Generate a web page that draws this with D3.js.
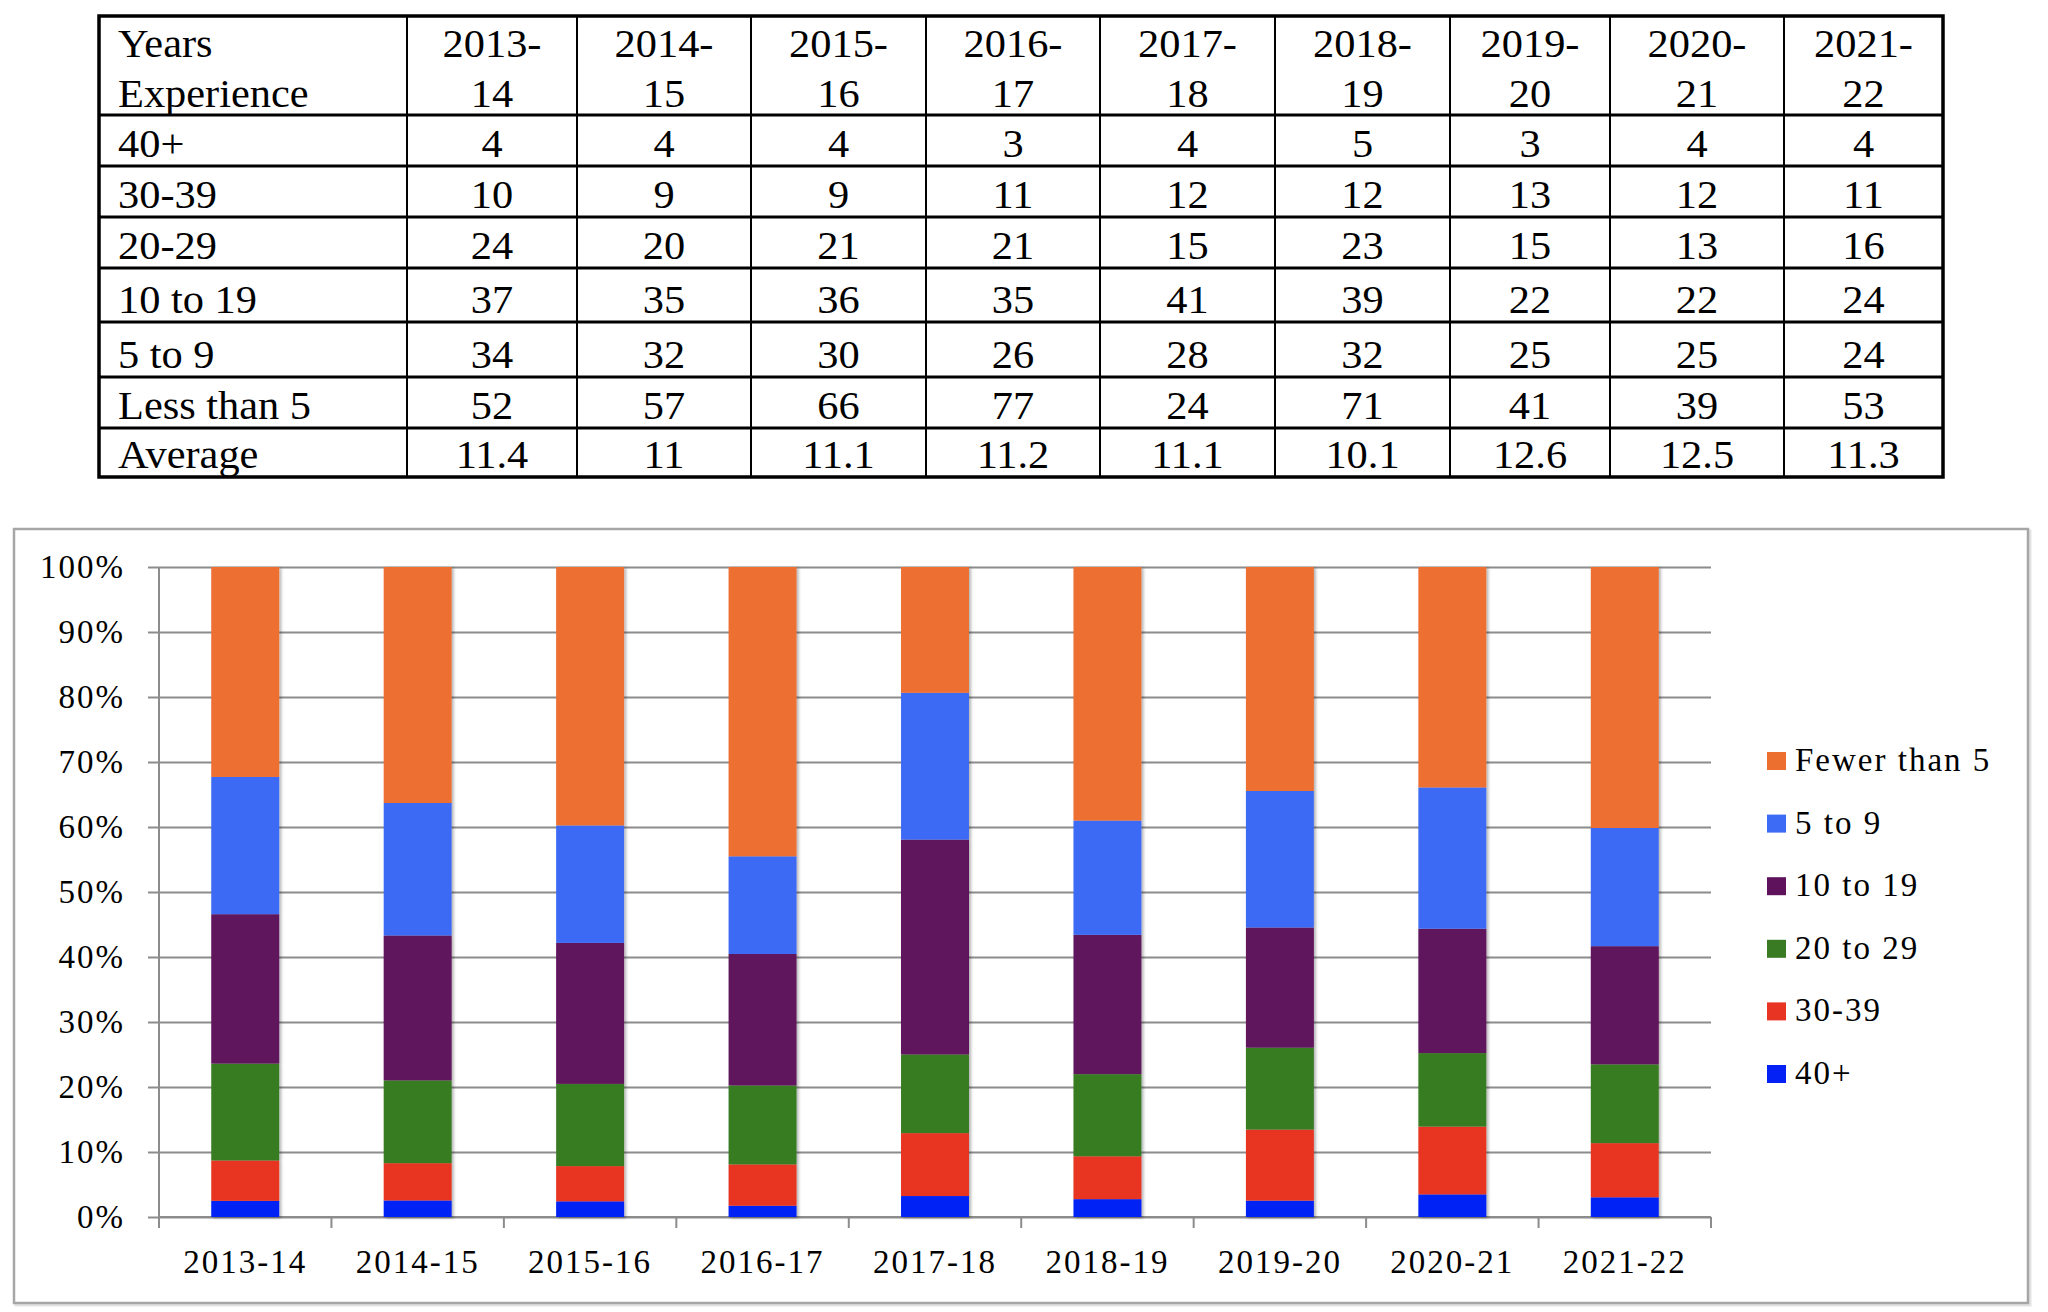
<!DOCTYPE html>
<html>
<head>
<meta charset="utf-8">
<script src="https://cdn.jsdelivr.net/npm/d3@7"></script>
<style>
  body { margin: 0; background: #fff; }
  svg { display: block; }
</style>
</head>
<body>
<svg></svg>
<script>
// data
const categories = ['2013-14', '2014-15', '2015-16', '2016-17', '2017-18', '2018-19', '2019-20', '2020-21', '2021-22']
const forty = [4, 4, 4, 3, 4, 5, 3, 4, 4]
const thirty39 = [10, 9, 9, 11, 12, 12, 13, 12, 11]
const twenty29 = [24, 20, 21, 21, 15, 23, 15, 13, 16]
const ten19 = [37, 35, 36, 35, 41, 39, 22, 22, 24]
const five9 = [34, 32, 30, 26, 28, 32, 25, 25, 24]
const lessThan5 = [52, 57, 66, 77, 24, 71, 41, 39, 53]
const average = [11.4, 11, 11.1, 11.2, 11.1, 10.1, 12.6, 12.5, 11.3]

const rowLabels = ['40+', '30-39', '20-29', '10 to 19', '5 to 9', 'Less than 5', 'Average']
const headerLabel = ['Years', 'Experience']
const legendLabels = ['Fewer than 5', '5 to 9', '10 to 19', '20 to 29', '30-39', '40+']
const yTicks = [0, 0.1, 0.2, 0.3, 0.4, 0.5, 0.6, 0.7, 0.8, 0.9, 1]

const width = 2048
const height = 1312

// stacking order, bottom to top
const keys = ['forty', 'thirty39', 'twenty29', 'ten19', 'five9', 'lessThan5']
const colors = {
    forty: '#0321f5',
    thirty39: '#e83423',
    twenty29: '#387b23',
    ten19: '#5e125c',
    five9: '#3e6bf5',
    lessThan5: '#ed6f30'
}

let svg = d3.select('svg')
    .attr('width', width)
    .attr('height', height)

function drawTable() {
    const colEdges = [99, 407, 577, 751, 926, 1100, 1275, 1450, 1610, 1784, 1943]
    const rowEdges = [16, 115, 166, 217, 268, 322, 377, 428, 477]
    const stretch = 1.06
    const font = 'Liberation Serif, Times New Roman, serif'

    let g = svg.append('g').attr('id', 'table')

    // inner horizontal lines
    rowEdges.slice(1, -1).forEach(y => {
        g.append('line')
            .attr('x1', colEdges[0]).attr('x2', colEdges[colEdges.length - 1])
            .attr('y1', y).attr('y2', y)
            .attr('stroke', '#000').attr('stroke-width', 3)
    })
    // inner vertical lines
    colEdges.slice(1, -1).forEach(x => {
        g.append('line')
            .attr('x1', x).attr('x2', x)
            .attr('y1', rowEdges[0]).attr('y2', rowEdges[rowEdges.length - 1])
            .attr('stroke', '#000').attr('stroke-width', 2)
    })
    // outer border
    g.append('rect')
        .attr('x', colEdges[0]).attr('y', rowEdges[0])
        .attr('width', colEdges[colEdges.length - 1] - colEdges[0])
        .attr('height', rowEdges[rowEdges.length - 1] - rowEdges[0])
        .attr('fill', 'none').attr('stroke', '#000').attr('stroke-width', 3.5)

    function cellText(txt, x, y, anchor) {
        g.append('text')
            .attr('transform', `translate(${x},${y}) scale(${stretch},1)`)
            .attr('text-anchor', anchor)
            .attr('font-family', font)
            .attr('font-size', 40)
            .attr('fill', '#000')
            .text(txt)
    }

    // header
    cellText(headerLabel[0], 118, 57, 'start')
    cellText(headerLabel[1], 118, 107, 'start')
    categories.forEach((c, i) => {
        let cx = (colEdges[i + 1] + colEdges[i + 2]) / 2
        let parts = c.split('-')
        cellText(parts[0] + '-', cx, 57, 'middle')
        cellText(parts[1], cx, 107, 'middle')
    })

    // body rows
    const rows = [forty, thirty39, twenty29, ten19, five9, lessThan5, average]
    rows.forEach((vals, r) => {
        let base = rowEdges[r + 2] - 9.5
        cellText(rowLabels[r], 118, base, 'start')
        vals.forEach((v, i) => {
            let cx = (colEdges[i + 1] + colEdges[i + 2]) / 2
            cellText(String(v), cx, base, 'middle')
        })
    })
}

function drawChart() {
    const font = 'Liberation Serif, Times New Roman, serif'
    const left = 159, right = 1711, top = 567, bottom = 1217
    const gridColor = '#8c8c8c'

    // frame
    svg.append('rect')
        .attr('x', 16).attr('y', 531).attr('width', 2014).attr('height', 774)
        .attr('fill', 'none').attr('stroke', '#e3e3e3').attr('stroke-width', 3)
    svg.append('rect')
        .attr('x', 14).attr('y', 529).attr('width', 2014).attr('height', 774)
        .attr('fill', '#fff').attr('stroke', '#a6a6a6').attr('stroke-width', 2.5)

    let xScale = d3.scaleBand()
        .domain(categories)
        .range([left, right])
        .paddingInner(0.606)
        .paddingOuter(0.303)

    let yScale = d3.scaleLinear()
        .domain([0, 1])
        .range([bottom, top])

    // gridlines
    svg.append('g')
        .attr('class', 'grid')
        .attr('transform', `translate(${left},0)`)
        .call(d3.axisLeft(yScale).tickValues(yTicks).tickSize(-(right - left)).tickFormat(''))
        .call(g => g.select('.domain').remove())
        .call(g => g.selectAll('line').attr('stroke', gridColor).attr('stroke-width', 2))

    // y axis
    svg.append('g')
        .attr('id', 'y-axis')
        .attr('transform', `translate(${left},0)`)
        .call(d3.axisLeft(yScale).tickValues(yTicks).tickSize(11).tickPadding(23)
            .tickFormat(d3.format('.0%')))
        .call(g => g.select('.domain').remove())
        .call(g => g.selectAll('line').attr('stroke', gridColor).attr('stroke-width', 2))
        .call(g => g.selectAll('text')
            .attr('font-family', font).attr('font-size', 33)
            .attr('letter-spacing', 2).attr('fill', '#000'))

    svg.append('line')
        .attr('x1', left).attr('x2', left)
        .attr('y1', top).attr('y2', bottom + 11)
        .attr('stroke', gridColor).attr('stroke-width', 2)

    // x axis labels
    svg.append('g')
        .attr('id', 'x-axis')
        .attr('transform', `translate(0,${bottom})`)
        .call(d3.axisBottom(xScale).tickSize(0).tickPadding(33))
        .call(g => g.select('.domain').remove())
        .call(g => g.selectAll('text')
            .attr('font-family', font).attr('font-size', 33)
            .attr('letter-spacing', 2).attr('fill', '#000'))

    // x axis line and boundary ticks
    svg.append('line')
        .attr('x1', left).attr('x2', right)
        .attr('y1', bottom).attr('y2', bottom)
        .attr('stroke', gridColor).attr('stroke-width', 2)
    d3.range(categories.length + 1).forEach(i => {
        let x = left + i * xScale.step()
        svg.append('line')
            .attr('x1', x).attr('x2', x)
            .attr('y1', bottom).attr('y2', bottom + 11)
            .attr('stroke', gridColor).attr('stroke-width', 2)
    })

    // stacked percent bars
    const source = { forty, thirty39, twenty29, ten19, five9, lessThan5 }
    let table = categories.map((c, i) => {
        let row = { category: c }
        keys.forEach(k => row[k] = source[k][i])
        return row
    })
    let series = d3.stack().keys(keys).offset(d3.stackOffsetExpand)(table)

    let defs = svg.append('defs')
    let filter = defs.append('filter').attr('id', 'shadow')
        .attr('x', '-10%').attr('y', '-5%').attr('width', '130%').attr('height', '115%')
    filter.append('feDropShadow')
        .attr('dx', 2).attr('dy', 1).attr('stdDeviation', 1.5)
        .attr('flood-color', '#000').attr('flood-opacity', 0.3)

    let bars = svg.append('g').attr('filter', 'url(#shadow)')
    bars.selectAll('g')
        .data(series)
        .enter()
        .append('g')
        .attr('fill', d => colors[d.key])
        .selectAll('rect')
        .data(d => d)
        .enter()
        .append('rect')
        .attr('x', d => xScale(d.data.category))
        .attr('y', d => yScale(d[1]))
        .attr('width', xScale.bandwidth())
        .attr('height', d => yScale(d[0]) - yScale(d[1]))

    // legend, top entry first
    let legendKeys = keys.slice().reverse()
    let legend = svg.append('g').attr('id', 'legend')
    legendKeys.forEach((k, i) => {
        let base = 771 + i * 62.6
        legend.append('rect')
            .attr('x', 1767).attr('y', base - 19)
            .attr('width', 19).attr('height', 18)
            .attr('fill', colors[k])
        legend.append('text')
            .attr('x', 1795).attr('y', base)
            .attr('font-family', font).attr('font-size', 33)
            .attr('letter-spacing', 2)
            .attr('fill', '#000')
            .text(legendLabels[i])
    })
}

drawTable()
drawChart()
</script>
</body>
</html>
